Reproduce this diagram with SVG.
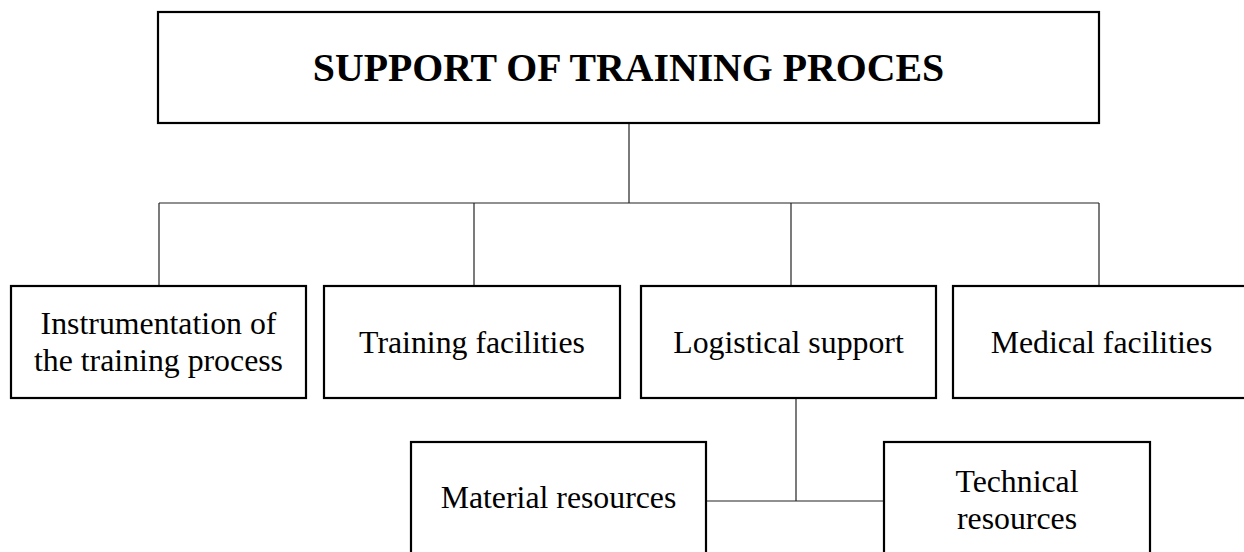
<svg xmlns="http://www.w3.org/2000/svg" width="1244" height="552" viewBox="0 0 1244 552">
  <style>
    .box { fill: #ffffff; stroke: #000000; stroke-width: 2.2; }
    .wire { fill: none; stroke: #222222; stroke-width: 1.2; }
    .label { font-family: "Liberation Serif", "Times New Roman", serif; font-size: 31.8px; fill: #000000; text-anchor: middle; }
    .title { font-family: "Liberation Serif", "Times New Roman", serif; font-size: 39.8px; font-weight: bold; fill: #000000; text-anchor: middle; }
  </style>
  <rect width="1244" height="552" fill="#ffffff"/>

  <!-- connectors -->
  <g id="connectors">
    <line class="wire" x1="629" y1="123" x2="629" y2="203"/>
    <line class="wire" x1="159" y1="203" x2="1099" y2="203"/>
    <line class="wire" x1="159" y1="203" x2="159" y2="286"/>
    <line class="wire" x1="474" y1="203" x2="474" y2="286"/>
    <line class="wire" x1="791" y1="203" x2="791" y2="286"/>
    <line class="wire" x1="1099" y1="203" x2="1099" y2="286"/>
    <line class="wire" x1="796" y1="398" x2="796" y2="501"/>
    <line class="wire" x1="706" y1="501" x2="884" y2="501"/>
  </g>

  <!-- root -->
  <g id="support">
    <rect class="box" x="158" y="12" width="941" height="111"/>
    <text class="title" x="628.5" y="81">SUPPORT OF TRAINING PROCES</text>
  </g>

  <!-- first level -->
  <g id="instrumentation">
    <rect class="box" x="11" y="286" width="295" height="112"/>
    <text class="label" x="158.5" y="334">Instrumentation of</text>
    <text class="label" x="158.5" y="371">the training process</text>
  </g>
  <g id="training-facilities">
    <rect class="box" x="324" y="286" width="296" height="112"/>
    <text class="label" x="472" y="353">Training facilities</text>
  </g>
  <g id="logistical-support">
    <rect class="box" x="641" y="286" width="295" height="112"/>
    <text class="label" x="788.5" y="353">Logistical support</text>
  </g>
  <g id="medical-facilities">
    <rect class="box" x="953" y="286" width="297" height="112"/>
    <text class="label" x="1101.5" y="353">Medical facilities</text>
  </g>

  <!-- second level -->
  <g id="material-resources">
    <rect class="box" x="411" y="442" width="295" height="120"/>
    <text class="label" x="558.5" y="508">Material resources</text>
  </g>
  <g id="technical-resources">
    <rect class="box" x="884" y="442" width="266" height="120"/>
    <text class="label" x="1017" y="492">Technical</text>
    <text class="label" x="1017" y="529">resources</text>
  </g>
</svg>
